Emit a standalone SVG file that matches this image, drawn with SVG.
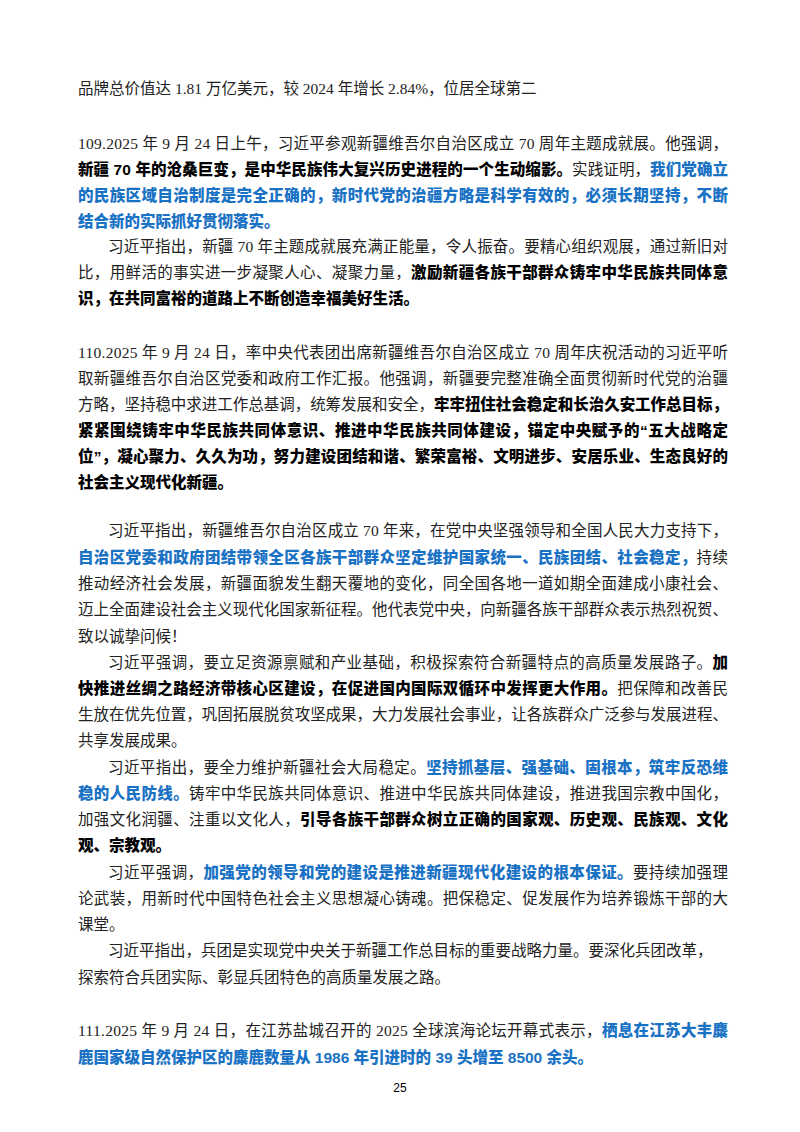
<svg xmlns="http://www.w3.org/2000/svg" width="800" height="1132" viewBox="0 0 800 1132">
<style>
text{font-family:"Liberation Serif","Noto Sans CJK SC",serif;font-size:15.5px;fill:#222}
.b{font-family:"Liberation Sans","Noto Sans CJK SC",sans-serif;font-weight:900;fill:#000}
.u{font-family:"Liberation Sans","Noto Sans CJK SC",sans-serif;font-weight:900;fill:#1a72c4}
.n{font-family:"Liberation Sans",Arial,sans-serif;font-size:12px;fill:#000}
</style>
<rect width="800" height="1132" fill="#fff"/>
<g id="page">
<text x="78" y="94">品牌总价值达 1.81 万亿美元，较 2024 年增长 2.84%，位居全球第二</text>

<text x="78" y="149" textLength="650" lengthAdjust="spacing">109.2025 年 9 月 24 日上午，习近平参观新疆维吾尔自治区成立 70 周年主题成就展。他强调，</text>
<text x="78" y="175" textLength="650" lengthAdjust="spacing"><tspan class="b">新疆 70 年的沧桑巨变，是中华民族伟大复兴历史进程的一个生动缩影。</tspan>实践证明，<tspan class="u">我们党确立</tspan></text>
<text x="78" y="201" textLength="650" lengthAdjust="spacing" class="u">的民族区域自治制度是完全正确的，新时代党的治疆方略是科学有效的，必须长期坚持，不断</text>
<text x="78" y="227" class="u">结合新的实际抓好贯彻落实。</text>
<text x="108" y="252" textLength="620" lengthAdjust="spacing">习近平指出，新疆 70 年主题成就展充满正能量，令人振奋。要精心组织观展，通过新旧对</text>
<text x="78" y="278" textLength="650" lengthAdjust="spacing">比，用鲜活的事实进一步凝聚人心、凝聚力量，<tspan class="b">激励新疆各族干部群众铸牢中华民族共同体意</tspan></text>
<text x="78" y="304" class="b">识，在共同富裕的道路上不断创造幸福美好生活。</text>

<text x="78" y="358" textLength="650" lengthAdjust="spacing">110.2025 年 9 月 24 日，率中央代表团出席新疆维吾尔自治区成立 70 周年庆祝活动的习近平听</text>
<text x="78" y="384" textLength="650" lengthAdjust="spacing">取新疆维吾尔自治区党委和政府工作汇报。他强调，新疆要完整准确全面贯彻新时代党的治疆</text>
<text x="78" y="410" textLength="650" lengthAdjust="spacing">方略，坚持稳中求进工作总基调，统筹发展和安全，<tspan class="b">牢牢扭住社会稳定和长治久安工作总目标，</tspan></text>
<text x="78" y="436" textLength="650" lengthAdjust="spacing" class="b">紧紧围绕铸牢中华民族共同体意识、推进中华民族共同体建设，锚定中央赋予的“五大战略定</text>
<text x="78" y="462" textLength="650" lengthAdjust="spacing" class="b">位”，凝心聚力、久久为功，努力建设团结和谐、繁荣富裕、文明进步、安居乐业、生态良好的</text>
<text x="78" y="488" class="b">社会主义现代化新疆。</text>
<text x="108" y="536" textLength="620" lengthAdjust="spacing">习近平指出，新疆维吾尔自治区成立 70 年来，在党中央坚强领导和全国人民大力支持下，</text>
<text x="78" y="563" textLength="650" lengthAdjust="spacing"><tspan class="u">自治区党委和政府团结带领全区各族干部群众坚定维护国家统一、民族团结、社会稳定，</tspan>持续</text>
<text x="78" y="589" textLength="650" lengthAdjust="spacing">推动经济社会发展，新疆面貌发生翻天覆地的变化，同全国各地一道如期全面建成小康社会、</text>
<text x="78" y="615" textLength="650" lengthAdjust="spacing">迈上全面建设社会主义现代化国家新征程。他代表党中央，向新疆各族干部群众表示热烈祝贺、</text>
<text x="78" y="642">致以诚挚问候！</text>
<text x="108" y="668" textLength="620" lengthAdjust="spacing">习近平强调，要立足资源禀赋和产业基础，积极探索符合新疆特点的高质量发展路子。<tspan class="b">加</tspan></text>
<text x="78" y="694" textLength="650" lengthAdjust="spacing"><tspan class="b">快推进丝绸之路经济带核心区建设，在促进国内国际双循环中发挥更大作用。</tspan>把保障和改善民</text>
<text x="78" y="720" textLength="650" lengthAdjust="spacing">生放在优先位置，巩固拓展脱贫攻坚成果，大力发展社会事业，让各族群众广泛参与发展进程、</text>
<text x="78" y="746">共享发展成果。</text>
<text x="108" y="773" textLength="620" lengthAdjust="spacing">习近平指出，要全力维护新疆社会大局稳定。<tspan class="u">坚持抓基层、强基础、固根本，筑牢反恐维</tspan></text>
<text x="78" y="799" textLength="650" lengthAdjust="spacing"><tspan class="u">稳的人民防线。</tspan>铸牢中华民族共同体意识、推进中华民族共同体建设，推进我国宗教中国化，</text>
<text x="78" y="825" textLength="650" lengthAdjust="spacing">加强文化润疆、注重以文化人，<tspan class="b">引导各族干部群众树立正确的国家观、历史观、民族观、文化</tspan></text>
<text x="78" y="851" class="b">观、宗教观。</text>
<text x="108" y="878" textLength="620" lengthAdjust="spacing">习近平强调，<tspan class="u">加强党的领导和党的建设是推进新疆现代化建设的根本保证。</tspan>要持续加强理</text>
<text x="78" y="904" textLength="650" lengthAdjust="spacing">论武装，用新时代中国特色社会主义思想凝心铸魂。把保稳定、促发展作为培养锻炼干部的大</text>
<text x="78" y="930">课堂。</text>
<text x="108" y="956">习近平指出，兵团是实现党中央关于新疆工作总目标的重要战略力量。要深化兵团改革，</text>
<text x="78" y="983">探索符合兵团实际、彰显兵团特色的高质量发展之路。</text>

<text x="78" y="1036" textLength="650" lengthAdjust="spacing">111.2025 年 9 月 24 日，在江苏盐城召开的 2025 全球滨海论坛开幕式表示，<tspan class="u">栖息在江苏大丰麋</tspan></text>
<text x="78" y="1063" class="u">鹿国家级自然保护区的麋鹿数量从 1986 年引进时的 39 头增至 8500 余头。</text>

<text x="400" y="1092" text-anchor="middle" class="n">25</text>
</g>
</svg>
